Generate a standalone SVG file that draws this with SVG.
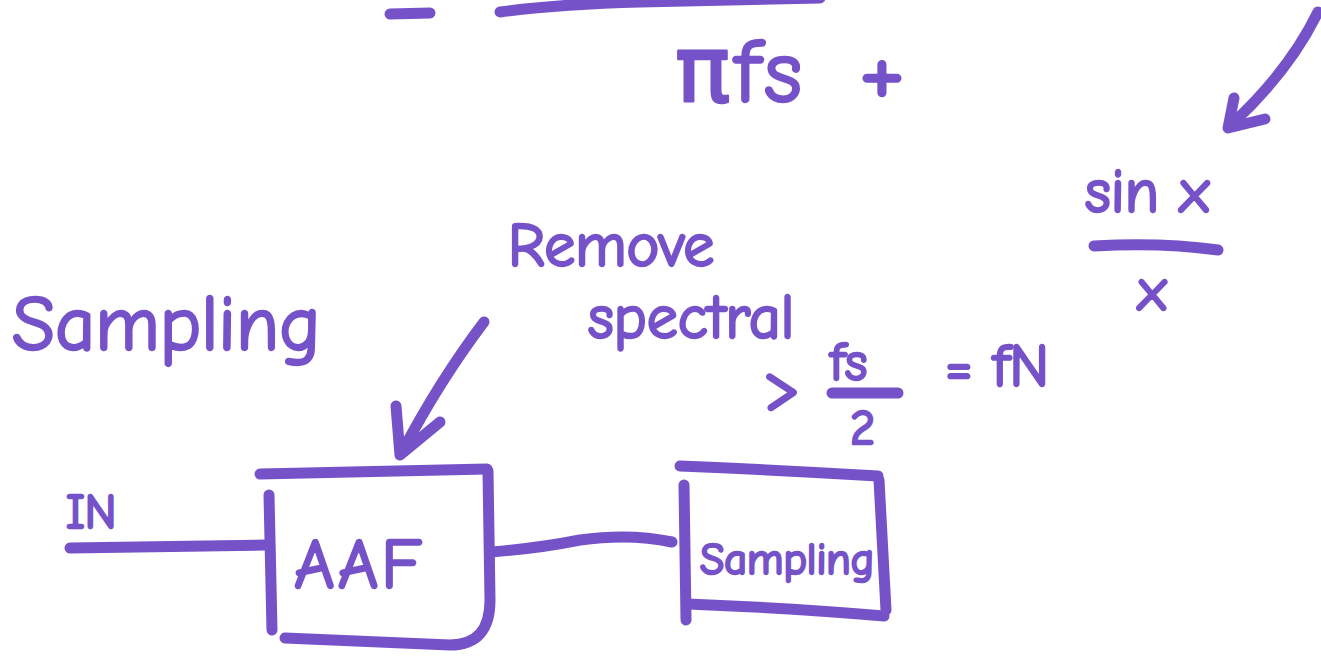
<svg xmlns="http://www.w3.org/2000/svg" width="1321" height="657" viewBox="0 0 1321 657">
<style>
.s{fill:none;stroke:#7652c9;stroke-width:11;stroke-linecap:round;stroke-linejoin:round}
.t{fill:#7652c9;stroke:#7652c9;stroke-width:2.5;font-family:"Comic Neue","DejaVu Sans","Liberation Sans",sans-serif;stroke-linejoin:round}
</style>
<rect width="1321" height="657" fill="#ffffff"/>
<g id="top-formula">
<path class="s" d="M390 14 L430 13"/>
<path class="s" d="M500 12 Q560 4 640 2 L820 -2"/>
<text class="t" x="675" y="102" font-size="92" letter-spacing="4">πfs</text>
<text class="t" x="858" y="104" font-size="108">+</text>
</g>
<g id="sinc">
<path class="s" d="M1318 12 Q1290 70 1232 124"/>
<path class="s" d="M1234 98 L1228 128 L1265 119"/>
<text class="t" x="1085" y="212" font-size="62">sin x</text>
<path class="s" d="M1094 246 Q1160 242 1218 250"/>
<text class="t" x="1138" y="310" font-size="60">x</text>
</g>
<g id="sampling-title">
<text class="t" x="12" y="350" font-size="78">Sampling</text>
</g>
<g id="remove-note">
<text class="t" x="508" y="266" font-size="62">Remove</text>
<text class="t" x="588" y="338" font-size="62">spectral</text>
</g>
<g id="nyquist">
<text class="t" x="762" y="410" font-size="72">&gt;</text>
<text class="t" x="830" y="380" font-size="54">fs</text>
<path class="s" d="M832 393 L898 393"/>
<text class="t" x="850" y="444" font-size="48">2</text>
<text class="t" x="945" y="386" font-size="60">= fN</text>
</g>
<g id="in-label">
<text class="t" x="66" y="528" font-size="48">IN</text>
</g>
<g id="aaf">
<path class="s" d="M260 474 L487 469"/>
<path class="s" d="M269 495 L272 630"/>
<path class="s" d="M488 471 L490 600 Q490 645 450 645 L285 638"/>
<text class="t" x="294" y="588" font-size="70" letter-spacing="3">AAF</text>
</g>
<g id="sampler">
<path class="s" d="M680 466 Q780 470 878 476"/>
<path class="s" d="M684 485 L686 620"/>
<path class="s" d="M879 480 L886 610"/>
<path class="s" d="M688 604 Q790 608 884 616"/>
<text class="t" x="700" y="574" font-size="44">Sampling</text>
</g>
<g id="connectors">
<path class="s" d="M70 548 L265 545"/>
<path class="s" d="M492 552 Q540 548 580 540 Q630 533 672 542"/>
<path class="s" d="M484 322 Q440 380 402 452"/>
<path class="s" d="M396 406 L400 455 L440 422"/>
</g>
</svg>
